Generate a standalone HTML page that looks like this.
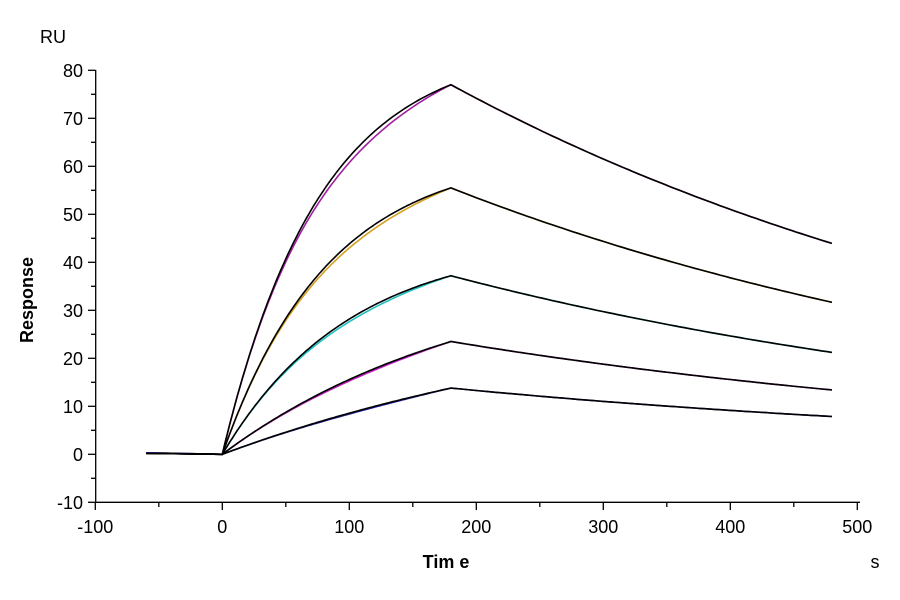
<!DOCTYPE html>
<html><head><meta charset="utf-8"><style>
html,body{margin:0;padding:0;background:#fff}
svg{display:block;font-family:"Liberation Sans",Arial,sans-serif}
</style></head><body>
<svg id="s" width="900" height="600" viewBox="0 0 900 600" xmlns="http://www.w3.org/2000/svg">
<g stroke="#000" stroke-width="1.3" fill="none">
<line x1="95.7" y1="70" x2="95.7" y2="502.3"/>
<line x1="95.7" y1="502.3" x2="860" y2="502.3"/>
</g>
<g id="ticks" stroke="#000" stroke-width="1.3"></g>
<g font-size="18" fill="#000" text-anchor="end" id="yl"></g>
<g font-size="18" fill="#000" text-anchor="middle" id="xl"></g>
<text x="40" y="43" font-size="18">RU</text>
<text x="446" y="568" font-size="18" font-weight="bold" text-anchor="middle">Tim e</text>
<text x="875" y="568" font-size="18" text-anchor="middle">s</text>
<text transform="translate(33,300) rotate(-90)" font-size="18" font-weight="bold" text-anchor="middle">Response</text>
<g id="curves" fill="none" stroke-width="1.6"></g>
</svg>
<script>
var NS="http://www.w3.org/2000/svg";
function X(t){return 222.3+1.27*t}
function Y(v){return 454.3-4.8*v}
function el(p,n,a){var e=document.createElementNS(NS,n);for(var k in a)e.setAttribute(k,a[k]);p.appendChild(e);return e}
var tk=document.getElementById('ticks'),yl=document.getElementById('yl'),xl=document.getElementById('xl');
for(var v=-10;v<=80;v+=5){var y=Y(v);el(tk,'line',{x1:v%10==0?88:91,x2:95.7,y1:y,y2:y});
 if(v%10==0){var t=el(yl,'text',{x:83,y:y+6.5});t.textContent=v;}}
for(var t=-100;t<=500;t+=50){var x=X(t);el(tk,'line',{x1:x,x2:x,y1:502.3,y2:t%100==0?510:507});
 if(t%100==0){var q=el(xl,'text',{x:x,y:533});q.textContent=t;}}
var c=document.getElementById('curves');
var S=[[77,0.013,'#a020a0'],[55.5,0.012,'#d4a020'],[37.2,0.01,'#20c0c0'],[23.5,0.005,'#c020c0'],[13.8,0.003,'#2020a0']];
var kd=0.00187;
function path(R,k,off,dy){var d='M'+X(-60)+' '+Y(0.2+dy);d+=' L'+X(0)+' '+Y(0);
 var a=1-Math.exp(-180*k);
 for(var t=2;t<=180;t+=2){var v=R*(1-Math.exp(-k*t))/a*(1-off*Math.sin(Math.PI*t/180));d+=' L'+X(t).toFixed(1)+' '+Y(v).toFixed(1);}
 for(var t=184;t<=480;t+=4){var v=R*Math.exp(-kd*(t-180));d+=' L'+X(t).toFixed(1)+' '+Y(v).toFixed(1);}
 return d;}
S.forEach(function(s){el(c,'path',{d:path(s[0],s[1],0.02,0.1),stroke:s[2]});});
S.forEach(function(s){el(c,'path',{d:path(s[0],s[1],0,0),stroke:'#000'});});
</script>
</body></html>
